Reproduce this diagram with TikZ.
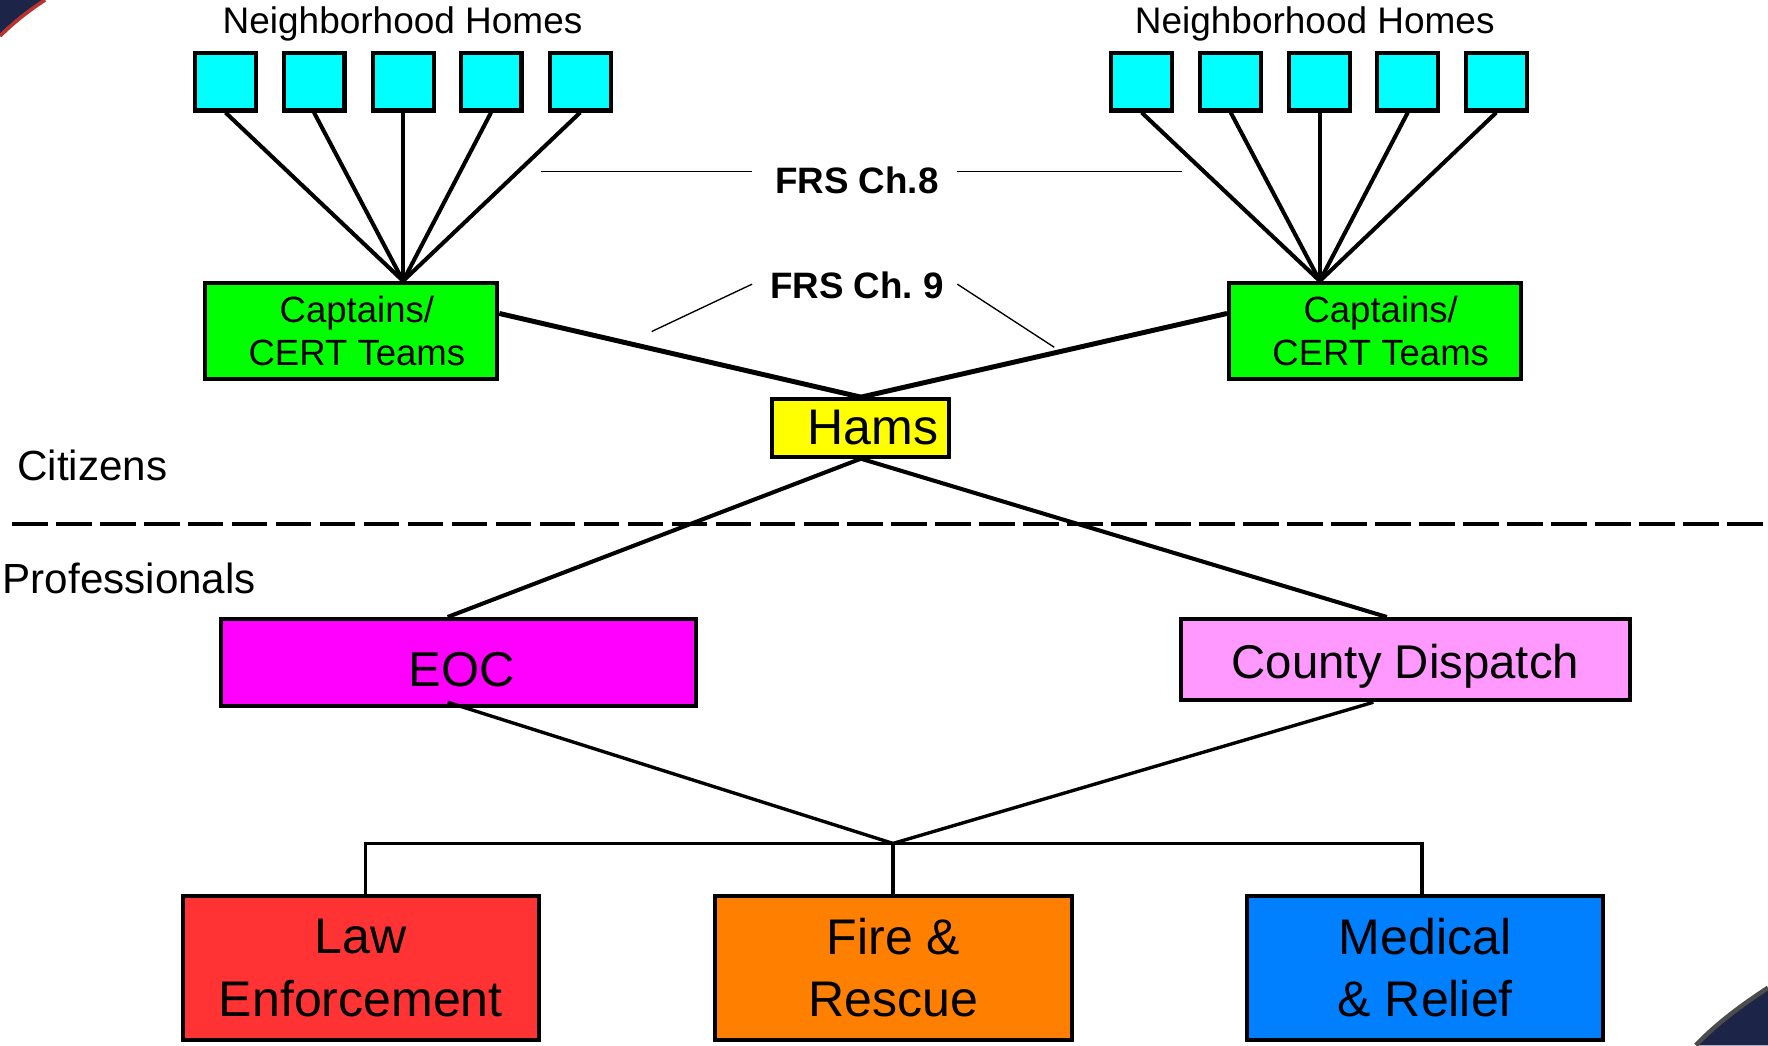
\documentclass[tikz,border=0pt]{standalone}
\usepackage{fontspec}
\setmainfont{Liberation Sans}
\usetikzlibrary{calc}
\frenchspacing
\definecolor{navy}{HTML}{1C2448}
\definecolor{stripe}{HTML}{B8322E}
\definecolor{homecol}{HTML}{00FFFF}
\definecolor{capcol}{HTML}{00FF00}
\definecolor{hamcol}{HTML}{FFFF00}
\definecolor{eoccol}{HTML}{FF00FF}
\definecolor{cdcol}{HTML}{FF99FF}
\definecolor{lawcol}{HTML}{FF3333}
\definecolor{firecol}{HTML}{FF8000}
\definecolor{medcol}{HTML}{0080FF}
\tikzset{
  box/.style={draw=black, line width=1.8pt, inner sep=0pt, align=center},
  home/.style={box, fill=homecol, minimum width=27pt, minimum height=25.5pt},
  capbox/.style={box, fill=capcol, minimum width=129.5pt, minimum height=42.5pt,
     font=\fontsize{16.2}{19.5}\selectfont},
  bigbox/.style={box, minimum width=158pt, minimum height=63.5pt,
     font=\fontsize{22.2}{27.5}\selectfont},
  conn/.style={line width=1.8pt},
  lowconn/.style={line width=1.5pt},
  thin/.style={line width=0.6pt},
  lbl/.style={inner sep=0pt, font=\fontsize{16.4}{19.5}\selectfont},
  frs/.style={inner sep=0pt, font=\fontsize{16.3}{19.5}\selectfont\bfseries},
  side/.style={inner sep=0pt, anchor=west, font=\fontsize{18.7}{22}\selectfont}
}
\begin{document}
\begin{tikzpicture}[x=0.5pt,y=-0.5pt]
\useasboundingbox (0,0) rectangle (1568,927);
% slide decorations
\fill[navy] (0,0) -- (38,0) .. controls (24,9) and (10,20) .. (0,30) -- cycle;
\draw[stripe, line width=1.6pt] (40,0) .. controls (26,9) and (12,20) .. (0,32);
\fill[navy] (1568,878) .. controls (1545,893) and (1522,910) .. (1506,927) -- (1568,927) -- cycle;
\draw[black!70, line width=2pt] (1568,876) .. controls (1545,891) and (1522,908) .. (1504,927);

% neighborhood homes
\node[lbl] (nhL) at (357,21) {Neighborhood Homes};
\node[lbl] (nhR) at (1166,21) {Neighborhood Homes};
\foreach \i/\x in {1/200,2/278.5,3/357.5,4/435.5,5/514.5}
  \node[home] (hL\i) at (\x,72.5) {};
\foreach \i/\x in {1/1012.5,2/1091.5,3/1170.5,4/1248.5,5/1327}
  \node[home] (hR\i) at (\x,72.5) {};

% captains
\node[capbox] (capL) at (311.5,293.5) {\hspace*{5pt}Captains/\\\hspace*{5pt}CERT Teams};
\node[capbox] (capR) at (1219.5,293.5) {\hspace*{5pt}Captains/\\\hspace*{5pt}CERT Teams};
\coordinate (fanL) at (capL.north -| hL3.south);
\coordinate (fanR) at (capR.north -| hR3.south);
\foreach \i in {1,...,5} {
  \draw[conn] (hL\i.south) -- (fanL);
  \draw[conn] (hR\i.south) -- (fanR);
}

% FRS labels
\node[frs] (frs8) at (760,160) {FRS Ch.8};
\node[frs] (frs9) at (760,253) {FRS Ch. 9};
\coordinate (f8a) at (480,152); \coordinate (f8b) at (667,152);
\coordinate (f8c) at (849,152); \coordinate (f8d) at (1048,152);
\draw[thin] (f8a) -- (f8b);
\draw[thin] (f8c) -- (f8d);
\coordinate (f9a) at (667,252); \coordinate (f9b) at (578,294);
\coordinate (f9c) at (849,252); \coordinate (f9d) at (935,308);
\draw[thin] (f9a) -- (f9b);
\draw[thin] (f9c) -- (f9d);

% Hams
\node[box, fill=hamcol, minimum width=78.5pt, minimum height=25.5pt,
      font=\fontsize{22.2}{26}\selectfont] (hams) at (763.5,379.5) {\hspace*{10.5pt}Hams};
\draw[line width=2.2pt] ([yshift=7.75pt]capL.east) -- (hams.north);
\draw[line width=2.2pt] ([yshift=7.75pt]capR.west) -- (hams.north);

% citizens / professionals
\node[side] (cit) at (15,413) {Citizens};
\coordinate (dashA) at (10.6,465);
\coordinate (dashB) at (1568,465);
\draw[line width=1.8pt, dash pattern=on 15.8pt off 3.7pt] (dashA) -- (dashB);
\node[side] (pro) at (2,513) {Professionals};

% EOC and County Dispatch
\node[box, fill=eoccol, minimum width=210.5pt, minimum height=38.5pt,
      font=\fontsize{21.7}{26}\selectfont] (eoc) at (406.5,587.5)
      {\raisebox{-3.25pt}[\height][\depth]{\hspace*{3pt}EOC}};
\node[box, fill=cdcol, minimum width=199.5pt, minimum height=36pt,
      font=\fontsize{21}{26}\selectfont] (cd) at (1246.5,585)
      {\raisebox{-3pt}[\height][\depth]{County Dispatch}};
\draw[conn] (hams.south) -- ([xshift=-4.75pt]eoc.north);
\draw[conn] (hams.south) -- ([xshift=-8.25pt]cd.north);

% bottom services
\coordinate (junc) at (792,748);
\draw[lowconn] ([xshift=-4.75pt,yshift=2.5pt]eoc.south) -- (junc);
\draw[lowconn] ([xshift=-14.25pt]cd.south) -- (junc);
\node[bigbox, fill=lawcol] (law) at (320,858.5) {Law\\Enforcement};
\node[bigbox, fill=firecol] (fire) at (792.5,858.5) {Fire \&\\Rescue};
\node[bigbox, fill=medcol] (med) at (1264,858.5) {Medical\\\& Relief};
\draw[lowconn] ([xshift=2pt]law.north) |- (junc) -| ([xshift=-1.5pt]med.north);
\draw[lowconn] (junc) -- (junc |- fire.north);
\end{tikzpicture}
\end{document}
